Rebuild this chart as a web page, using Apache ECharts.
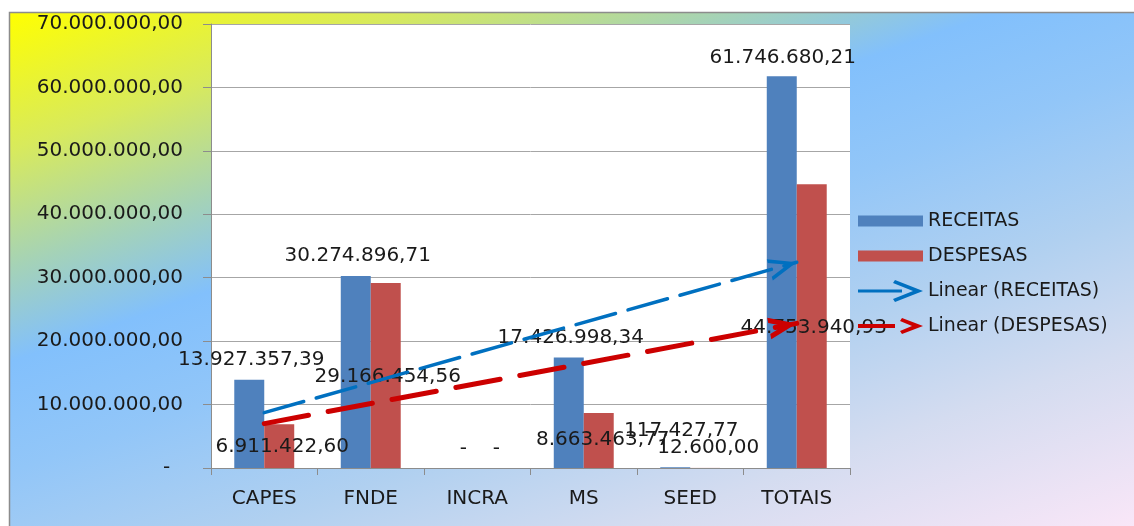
<!DOCTYPE html>
<html>
<head>
<meta charset="utf-8">
<script src="https://cdn.jsdelivr.net/npm/echarts@6/dist/echarts.min.js"></script>
<style>
  html, body { margin: 0; padding: 0; background: #fff; }
  #chart { width: 1134px; height: 526px; }
</style>
</head>
<body>
<div id="chart"></div>
<script>
const categories = ['CAPES', 'FNDE', 'INCRA', 'MS', 'SEED', 'TOTAIS'];
const receitas = [13927357.39, 30274896.71, 0, 17426998.34, 117427.77, 61746680.21];
const despesas = [6911422.60, 29166454.56, 0, 8663463.77, 12600.00, 44753940.93];
// linhas de tendencia: valor em CAPES e em TOTAIS
const trendReceitas = [8720000, 32440000];
const trendDespesas = [7000000, 22800000];

// deslocamento dos rotulos (px) a partir do topo de cada barra
const recShift = [[2, -20], [2, -20], [1, -19], [2, -20], [6, -36], [1, -19]];
const despShift = [[3, 23], [2, 94], [4, -19], [4, 27], [3, -20], [2, 144]];

const FONT = "'DejaVu Sans', Verdana, sans-serif";
const BLUE = '#4F81BD', RED = '#C0504D';
const TREND_BLUE = '#0070C0', TREND_RED = '#CC0000';

function brl(v) {
  const p = v.toFixed(2).split('.');
  return p[0].replace(/\B(?=(\d{3})+(?!\d))/g, '.') + ',' + p[1];
}

const dot = 'M0,0 L0.01,0 L0,0.01 Z M0,22 L0.01,22 L0,21.99 Z ';
const iconBar = 'path://' + dot + 'M0,5.5 L65,5.5 L65,16.5 L0,16.5 Z';
const iconTrendBlue = 'path://M0,9.5 L44,9.5 L44,12.5 L0,12.5 Z M37,0 L65,11 L37,22 L35,19 L55,11 L35,3 Z';
const iconTrendRed = 'path://' + dot + 'M0,9 L37,9 L37,13 L0,13 Z M44,3 L65,11 L44,19 L42,16 L54,11 L42,6 Z';
const arrowBlue = 'path://M0,0 L0.01,0 L0,0.01 Z M11,28 L22,56 L18.2,56 L11,37.6 L3.8,56 L0,56 Z';
const arrowRed = 'path://M0,0 L0.01,0 L0,0.01 Z M11,28 L22,56 L16.6,56 L11,41.7 L5.4,56 L0,56 Z';

const labelBase = {
  show: true, position: 'top', distance: 0, align: 'center', verticalAlign: 'middle',
  fontFamily: FONT, fontSize: 20, color: '#1a1a1a',
  formatter: p => p.value === 0 ? '-' : brl(p.value)
};

function trend(name, color, width, dash, arrow, vals) {
  return {
    name: name, type: 'line', data: [], color: color,
    itemStyle: { color: color },
    lineStyle: { color: color },
    markLine: {
      silent: true,
      symbol: ['none', arrow],
      symbolSize: [22, 56],
      label: { show: false },
      emphasis: { disabled: true },
      lineStyle: { color: color, width: width, type: dash, cap: 'round' },
      data: [[{ coord: [categories[0], vals[0]] }, { coord: [categories[5], vals[1]] }]]
    }
  };
}

const chart = echarts.init(document.getElementById('chart'), null, { renderer: 'canvas' });
chart.setOption({
  animation: false,
  backgroundColor: '#fff',
  graphic: [{
    type: 'rect', z: -10, silent: true,
    shape: { x: 9.5, y: 12.5, width: 1200, height: 600 },
    style: {
      fill: {
        type: 'linear', x: 9, y: 12, x2: 299, y2: 831, global: true,
        colorStops: [
          { offset: 0, color: '#FFFF00' },
          { offset: 0.15, color: '#D8EA5C' },
          { offset: 0.28, color: '#A4D2B8' },
          { offset: 0.38, color: '#82C0FC' },
          { offset: 0.5, color: '#92C6F8' },
          { offset: 0.65, color: '#B0D0F0' },
          { offset: 0.8, color: '#D4DCF0' },
          { offset: 1, color: '#FBE7F8' }
        ]
      },
      stroke: '#8c8c8c', lineWidth: 1.5
    }
  }],
  grid: {
    left: 211, top: 24, width: 639, height: 444,
    show: true, backgroundColor: '#fff', borderWidth: 0
  },
  legend: {
    orient: 'vertical', left: 853, top: 205,
    itemWidth: 65, itemHeight: 22, itemGap: 13,
    symbolKeepAspect: false, selectedMode: false,
    textStyle: { fontFamily: FONT, fontSize: 19, color: '#1a1a1a' },
    data: [
      { name: 'RECEITAS', icon: iconBar, itemStyle: { borderWidth: 0 } },
      { name: 'DESPESAS', icon: iconBar, itemStyle: { borderWidth: 0 } },
      { name: 'Linear (RECEITAS)', icon: iconTrendBlue, itemStyle: { borderWidth: 0 } },
      { name: 'Linear (DESPESAS)', icon: iconTrendRed, itemStyle: { borderWidth: 0 } }
    ]
  },
  xAxis: {
    type: 'category', data: categories,
    axisLine: { lineStyle: { color: '#8c8c8c' } },
    axisTick: { show: true, length: 7, lineStyle: { color: '#8c8c8c' } },
    axisLabel: { fontFamily: FONT, fontSize: 20, color: '#1a1a1a', margin: 21 }
  },
  yAxis: {
    type: 'value', min: 0, max: 70000000, interval: 10000000,
    axisLine: { show: true, lineStyle: { color: '#8c8c8c' } },
    axisTick: { show: true, length: 8, lineStyle: { color: '#8c8c8c' } },
    splitLine: { lineStyle: { color: '#a6a6a6' } },
    axisLabel: {
      fontFamily: FONT, fontSize: 20, color: '#1a1a1a', margin: 28,
      formatter: v => v === 0 ? '-  ' : brl(v)
    }
  },
  series: [
    {
      name: 'RECEITAS', type: 'bar', barGap: '0%', barCategoryGap: '43.7%',
      itemStyle: { color: BLUE }, label: labelBase,
      data: receitas.map((v, i) => ({ value: v, label: { offset: recShift[i] } }))
    },
    {
      name: 'DESPESAS', type: 'bar',
      itemStyle: { color: RED }, label: labelBase,
      data: despesas.map((v, i) => ({ value: v, label: { offset: despShift[i] } }))
    },
    trend('Linear (RECEITAS)', TREND_BLUE, 3.5, [41, 13], arrowBlue, trendReceitas),
    trend('Linear (DESPESAS)', TREND_RED, 5, [45, 20], arrowRed, trendDespesas)
  ]
});
</script>
</body>
</html>
